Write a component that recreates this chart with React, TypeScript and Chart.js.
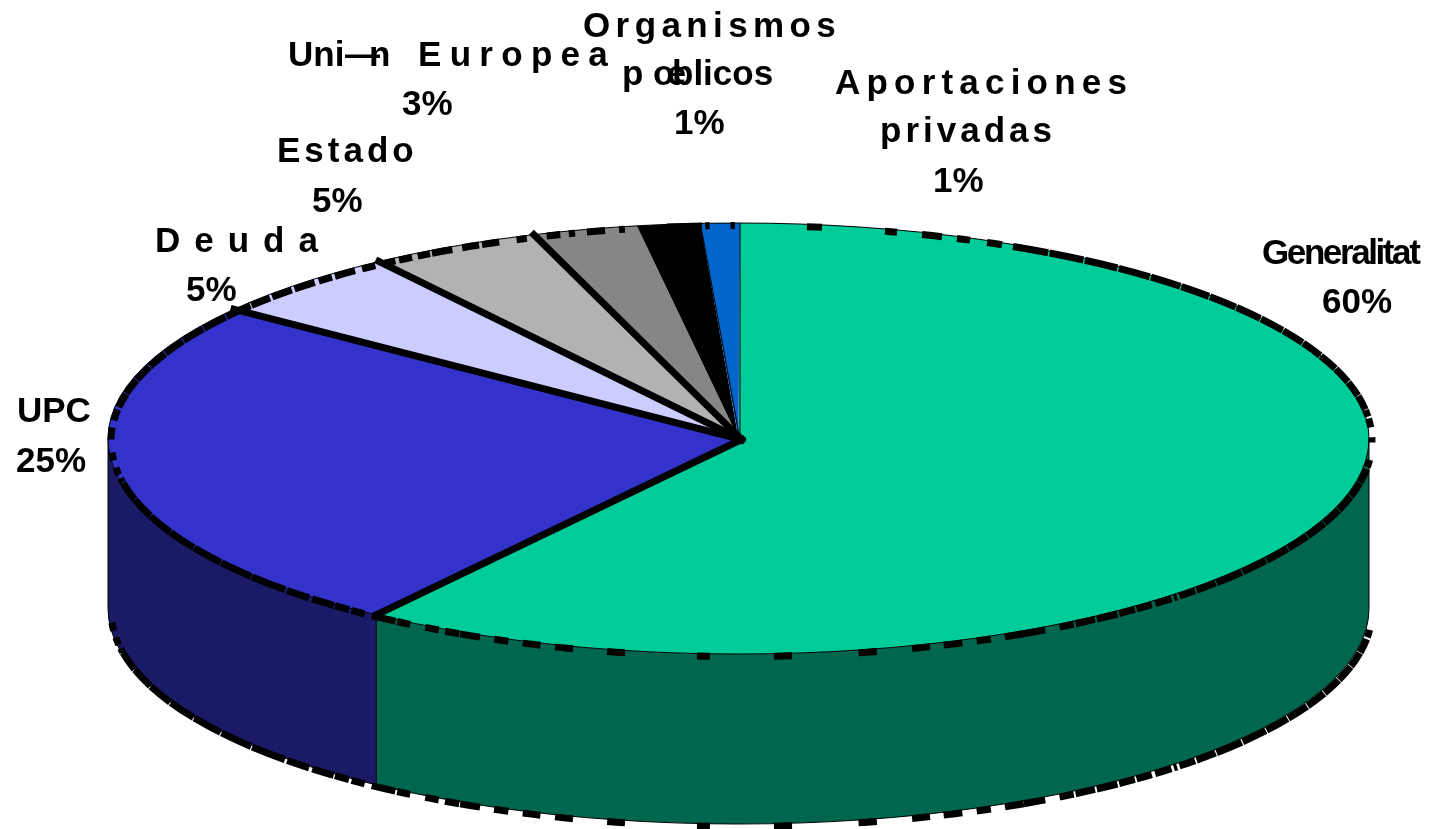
import React, { useEffect, useRef } from "react";
import { Chart, registerables } from "chart.js";

Chart.register(...registerables);

// ---- data ----
const categories = ["Generalitat", "UPC", "Deuda", "Estado", "Unión Europea", "Organismos públicos", "Aportaciones privadas"];
const seriesValues = [59.7, 25.5, 5.1, 4.4, 2.7, 1.6, 1.0];
const sliceColors = ["#00CC99", "#3333CC", "#CCCCFF", "#B2B2B2", "#868686", "#000000", "#0066CC"];
const wallColors = ["#00664D", "#1A1A66", "#66667F", "#595959", "#434343", "#000000", "#003366"];
// Slice boundaries (index of the slice that ends there) carrying the heavy divider
const heavyDividers = [0, 1, 2, 3];

// text as it appears in the picture: [text, x, baseline, letterSpacing]
type Label = [string, number, number, number];
const labelRuns: Label[] = [
  ["Organismos", 583, 37, 5.4],
  ["p", 622, 85, 0],
  ["œ", 653, 85, 0],
  ["blicos", 672, 85, 0],
  ["1%", 674, 134, 0],
  ["Uni", 288, 66, 0],
  ["—", 345, 66, 0],
  ["n", 369, 66, 0],
  ["Europea", 418, 66, 8.3],
  ["3%", 402, 115, 0],
  ["Estado", 277, 162, 4],
  ["5%", 312, 212, 0],
  ["Deuda", 155, 252, 14],
  ["5%", 186, 301, 0],
  ["Aportaciones", 835, 94, 6.2],
  ["privadas", 880, 142, 4],
  ["1%", 933, 192, 0],
  ["Generalitat", 1262, 264, -2.4],
  ["60%", 1322, 313, 0],
  ["UPC", 17, 422, 0],
  ["25%", 16, 472, 0],
];

// ---- style of the pie ----
const RADIUS_X = 630.5;
const TILT = 215.5 / 630.5;
const DEPTH = 170;
const FONT = 'bold 35px "Liberation Sans", Arial, sans-serif';
const DASH_SHIFT_X = 3;
const DASH_SHIFT_Y = 2.5;

function run(from: number, to: number, on: number, off: number): number[][] {
  const out: number[][] = [];
  for (let a = from; a < to; a += on + off) out.push([a, Math.min(a + on, to)]);
  return out;
}

// The rim's heavy dashes, in degrees clockwise from 12 o'clock
const rimDashes: number[][] = [
  [5.96, 7.33], [13.15, 14.28], [16.64, 18.54], [19.98, 21.25], [22.92, 24.4],
  ...run(25.5, 83.5, 3.6, 0.15),
  [84, 86.4], [89, 90.4], [95, 97],
  ...run(97.5, 133.8, 3.6, 0.15),
  [134, 136], [136.3, 136.7], [137, 139], [139.4, 141.2], [141.4, 143.2], [143.4, 145.7], [145.9, 148],
  [148.2, 149.7], [151.2, 153.4], [153.4, 155.3], [156.7, 158.1], [159.5, 161.3], [162.6, 164.3], [167.6, 169.3],
  [175.4, 177.05], [182.87, 184.05], [190.65, 192.3], [195.5, 197.2], [198.6, 200.3], [201.7, 203.1],
  [204.5, 206.5], [206.6, 208.05], [208.7, 210.1], [211.7, 213.1], [213.3, 215.9], [216.7, 218.2], [218.5, 220.15],
  [220.3, 222.9], [223.3, 226.1],
  ...run(226.4, 260, 4.5, 0.15),
  [261, 262.9], [264.8, 266.9], [270.4, 273.6], [275.5, 278.4],
  ...run(279, 311.6, 3.6, 0.15),
  [311.9, 314.5], [314.85, 317.4], [317.9, 319.5], [319.85, 322.2], [323, 324.5], [325.6, 326.7], [327.1, 328.5],
  [329.1, 330.4], [330.6, 332.7], [333.7, 335.4], [335.7, 337.4], [339.1, 340.1], [342, 343.3], [344.1, 344.7],
  [345.8, 347.5], [348.8, 349.35], [353.2, 356.4], [356.7, 357.1], [359, 359.4],
];

const deg = (d: number) => ((d - 90) * Math.PI) / 180;

const pie3d = {
  id: "pie3d",
  beforeDatasetsDraw(chart: any) {
    const ctx = chart.ctx;
    const arcs = chart.getDatasetMeta(0).data;
    const { x: cx, y: cy, outerRadius: rx } = arcs[0];
    const ry = rx * TILT;
    // side walls, only along the front half
    arcs.forEach((arc: any, i: number) => {
      const a0 = Math.max(arc.startAngle, 0);
      const a1 = Math.min(arc.endAngle, Math.PI);
      if (a1 <= a0) return;
      ctx.beginPath();
      ctx.ellipse(cx, cy, rx, ry, 0, a0, a1);
      ctx.ellipse(cx, cy + DEPTH, rx, ry, 0, a1, a0, true);
      ctx.closePath();
      ctx.fillStyle = wallColors[i];
      ctx.fill();
    });
    // thin vertical edges of the walls
    ctx.strokeStyle = "#000";
    ctx.lineWidth = 1;
    ctx.beginPath();
    ctx.moveTo(cx - rx, cy);
    ctx.lineTo(cx - rx, cy + DEPTH);
    ctx.moveTo(cx + rx, cy);
    ctx.lineTo(cx + rx, cy + DEPTH);
    arcs.forEach((arc: any) => {
      if (arc.endAngle > 0 && arc.endAngle < Math.PI) {
        const px = cx + rx * Math.cos(arc.endAngle);
        const py = cy + ry * Math.sin(arc.endAngle);
        ctx.moveTo(px, py);
        ctx.lineTo(px, py + DEPTH);
      }
    });
    ctx.stroke();
    // flatten the pie the library draws
    ctx.save();
    ctx.translate(cx, cy);
    ctx.scale(1, TILT);
    ctx.translate(-cx, -cy);
  },
  afterDatasetsDraw(chart: any) {
    const ctx = chart.ctx;
    ctx.restore();
    const arcs = chart.getDatasetMeta(0).data;
    const { x: cx, y: cy, outerRadius: rx } = arcs[0];
    const ry = rx * TILT;

    // thin outlines of both rims
    ctx.strokeStyle = "#000";
    ctx.lineWidth = 1;
    ctx.beginPath();
    ctx.ellipse(cx, cy, rx, ry, 0, 0, Math.PI * 2);
    ctx.stroke();
    ctx.beginPath();
    ctx.ellipse(cx, cy + DEPTH, rx, ry, 0, 0, Math.PI);
    ctx.stroke();

    // radial dividers
    arcs.forEach((arc: any, i: number) => {
      const px = cx + rx * Math.cos(arc.endAngle);
      const py = cy + ry * Math.sin(arc.endAngle);
      const heavy = heavyDividers.includes(i);
      ctx.lineWidth = heavy ? 7 : 1;
      ctx.lineCap = heavy ? "square" : "butt";
      ctx.beginPath();
      ctx.moveTo(heavy ? cx + 3 : cx + 1.5, cy + 1);
      ctx.lineTo(px, py);
      ctx.stroke();
    });

    // heavy dashes of the rims
    ctx.lineWidth = 7;
    ctx.lineCap = "butt";
    rimDashes.forEach(([a, b]) => {
      ctx.beginPath();
      ctx.ellipse(cx + DASH_SHIFT_X, cy + DASH_SHIFT_Y, rx, ry, 0, deg(a), deg(b));
      ctx.stroke();
      if (a >= 92 && b <= 268) {
        ctx.beginPath();
        ctx.ellipse(cx + DASH_SHIFT_X, cy + DEPTH + DASH_SHIFT_Y, rx, ry, 0, deg(a), deg(b));
        ctx.stroke();
      }
    });
  },
  afterDraw(chart: any) {
    const ctx = chart.ctx;
    ctx.save();
    ctx.fillStyle = "#000";
    ctx.font = FONT;
    ctx.textAlign = "left";
    ctx.textBaseline = "alphabetic";
    labelRuns.forEach(([text, x, y, spacing]) => {
      ctx.letterSpacing = `${spacing}px`;
      ctx.fillText(text, x, y);
    });
    ctx.restore();
  },
};

export default function App() {
  const ref = useRef<HTMLCanvasElement>(null);
  useEffect(() => {
    const chart = new Chart(ref.current!, {
      type: "pie",
      data: {
        labels: categories,
        datasets: [
          {
            data: seriesValues,
            backgroundColor: sliceColors,
            borderWidth: 0,
            clip: false,
          } as any,
        ],
      },
      options: {
        responsive: false,
        animation: false,
        radius: RADIUS_X,
        rotation: 0.14,
        layout: { padding: { left: 36, top: 48 } },
        plugins: { legend: { display: false }, title: { display: false }, tooltip: { enabled: false } },
      } as any,
      plugins: [pie3d],
    });
    return () => chart.destroy();
  }, []);
  return (
    <canvas
      ref={ref}
      width={1441}
      height={829}
      style={{ position: "absolute", left: 0, top: 0, display: "block", width: 1441, height: 829, background: "#fff" }}
    />
  );
}
